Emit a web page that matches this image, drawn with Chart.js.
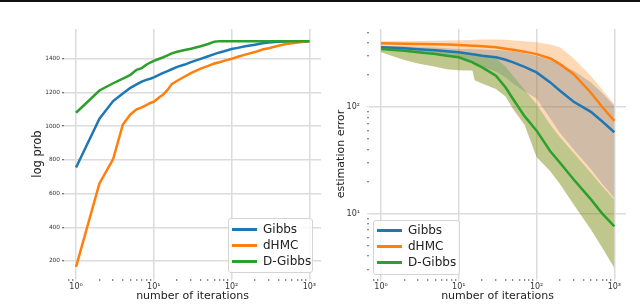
<!DOCTYPE html>
<html>
<head>
<meta charset="utf-8">
<script src="https://cdn.jsdelivr.net/npm/chart.js@4.4.0/dist/chart.umd.min.js"></script>
<style>
  html, body { margin: 0; padding: 0; background: #fff; }
  #wrap { position: relative; width: 640px; height: 305px; overflow: hidden; background: #fff; }
  #topbar { position: absolute; left: 0; top: 0; width: 640px; height: 2px; background: #111; }
  canvas { position: absolute; left: 0; top: 0; }
  .legend {
    position: absolute; box-sizing: border-box;
    background: rgba(255,255,255,0.8); border: 1px solid #d4d4d4; border-radius: 3px;
    font-family: 'DejaVu Sans', sans-serif; font-size: 12px; color: #222;
  }
  .legend .row { position: absolute; left: 0; height: 16px; line-height: 16px; white-space: nowrap; }
  .legend .row i { position: absolute; left: 3px; top: 6.5px; width: 25px; height: 3px; }
  .legend .row span { position: absolute; left: 34px; top: 0; }
</style>
</head>
<body>
<div id="wrap">
  <canvas id="lp-chart" width="640" height="305"></canvas>
  <canvas id="err-chart" width="640" height="305"></canvas>
  <div id="topbar"></div>
  <div class="legend" id="lp-legend" style="left:228px;top:218px;width:85px;height:55px"></div>
  <div class="legend" id="err-legend" style="left:373px;top:220px;width:87px;height:55px"></div>
</div>
<script>
'use strict';

// ── Data ──────────────────────────────────────────────────────────────────────

const SERIES = ['Gibbs', 'dHMC', 'D-Gibbs'];
const COLORS = ['#1f77b4', '#ff7f0e', '#2ca02c'];
const BANDS  = ['rgba(31,119,180,0.3)', 'rgba(255,127,14,0.3)', 'rgba(44,160,44,0.3)'];

// left panel: log prob vs iterations
const ITER_L = [1, 2, 3, 4, 5, 6, 7, 8, 9, 10, 12, 13, 15, 17, 20, 25, 30, 40, 50, 60,
                70, 80, 100, 120, 150, 200, 250, 300, 400, 500, 600, 700, 800, 900, 1000];
const gibbsLP  = [755, 1045, 1149, 1194, 1228, 1248, 1265, 1275, 1282, 1290, 1307, 1315, 1327, 1338, 1352, 1366, 1380, 1400, 1415, 1428,
                  1438, 1445, 1458, 1465, 1474, 1484, 1492, 1497, 1501, 1503, 1504, 1505, 1505, 1505, 1505];
const dhmcLP   = [165, 660, 805, 1010, 1070, 1100, 1112, 1125, 1138, 1145, 1175, 1185, 1215, 1250, 1270, 1295, 1315, 1342, 1358, 1372,
                  1380, 1388, 1400, 1412, 1425, 1440, 1455, 1463, 1478, 1488, 1493, 1497, 1500, 1503, 1506];
const dgibbsLP = [1080, 1212, 1255, 1283, 1305, 1335, 1345, 1365, 1378, 1388, 1402, 1408, 1420, 1432, 1442, 1452, 1460, 1475, 1488, 1502,
                  1505, 1504, 1505, 1504, 1505, 1504, 1505, 1504, 1505, 1504, 1505, 1505, 1504, 1505, 1505];

// right panel: estimation error (mean with band) vs iterations
const ITER_R = [1, 2, 3, 5, 7, 10, 15, 16, 20, 30, 40, 50, 70, 100, 150, 200, 300, 500, 700, 1000];
const gibbsErr    = [362, 355, 348, 340, 332, 325, 312, 310, 302, 292, 277, 262, 238, 211, 170, 142, 112, 90, 73, 58];
const gibbsErrUp  = [375, 370, 365, 360, 355, 350, 348, 347, 345, 342, 338, 332, 318, 300, 275, 252, 218, 170, 135, 102];
const gibbsErrLo  = [348, 335, 325, 310, 298, 285, 262, 255, 240, 215, 190, 165, 140, 120, 78, 57, 40, 26, 19, 14];
const dhmcErr     = [395, 392, 390, 387, 384, 380, 375, 374, 370, 362, 352, 344, 330, 313, 285, 252, 203, 136, 100, 74];
const dhmcErrUp   = [412, 414, 416, 418, 420, 422, 425, 426, 430, 430, 426, 420, 412, 404, 385, 362, 285, 195, 145, 106];
const dhmcErrLo   = [325, 275, 256, 238, 226, 221, 220, 178, 166, 147, 125, 95, 68, 34, 25, 19, 12.2, 7.1, 4.8, 3.1];
const dgibbsErr   = [350, 336, 325, 313, 302, 292, 262, 255, 235, 196, 152, 118, 82, 60, 38.5, 30, 20.9, 13.6, 10, 7.6];
const dgibbsErrUp = [362, 352, 345, 338, 332, 325, 312, 310, 302, 285, 240, 195, 145, 106, 68, 52, 37, 24, 18, 13.5];
const dgibbsErrLo = [325, 275, 256, 238, 226, 221, 220, 178, 166, 147, 125, 95, 68, 34, 25, 19, 12.2, 7.1, 4.8, 3.1];

// ticks
const X_MAJOR   = [1, 10, 100, 1000];
const X_LABELS  = ['10⁰', '10¹', '10²', '10³'];
const LP_TICKS  = [200, 400, 600, 800, 1000, 1200, 1400];
const ERR_MAJOR = [10, 100];
const ERR_LABELS = ['10¹', '10²'];

// ── Chart setup ───────────────────────────────────────────────────────────────

const FONT = "'DejaVu Sans', sans-serif";
const GRID = '#dcdcdc';
Chart.defaults.font.family = FONT;
Chart.defaults.color = '#262626';

const pts = (xs, ys) => xs.map((x, i) => ({ x, y: ys[i] }));

function minorTicks(lo, hi) {
  const out = [];
  for (let d = 0.1; d < 2000; d *= 10) {
    for (let k = 2; k <= 9; k++) {
      const v = +(k * d).toPrecision(3);
      if (v > lo && v < hi) out.push(v);
    }
  }
  return out;
}

function tickSetter(major, lo, hi) {
  return scale => {
    const t = major.map(v => ({ value: v, major: true }))
      .concat(minorTicks(lo, hi).map(v => ({ value: v, major: false })));
    t.sort((a, b) => a.value - b.value);
    scale.ticks = t;
  };
}

const labelFrom = (major, labels) => v => {
  const i = major.indexOf(v);
  return i >= 0 ? labels[i] : '';
};

function gridOpts(majorTick) {
  return {
    color: c => (c.tick && c.tick.major ? GRID : 'rgba(0,0,0,0)'),
    lineWidth: 1.5,
    tickColor: c => (c.tick && c.tick.major ? majorTick : '#666'),
    tickLength: 2,
    tickWidth: 1,
  };
}

function xAxis(min, max) {
  return {
    type: 'logarithmic', min, max,
    border: { display: false },
    grid: gridOpts(GRID),
    afterBuildTicks: tickSetter(X_MAJOR, min, max),
    afterFit: s => { s.height = 26; },
    ticks: {
      autoSkip: false, maxRotation: 0, padding: 1,
      font: { size: 8 }, color: '#333',
      callback: labelFrom(X_MAJOR, X_LABELS),
    },
    title: {
      display: true, text: 'number of iterations',
      font: { size: 11 }, color: '#222',
      padding: { top: 0, bottom: 2 },
    },
  };
}

const lineDs = (label, data, k, order) => ({
  label, data, order,
  borderColor: COLORS[k], borderWidth: 2.5,
  pointRadius: 0, tension: 0, fill: false,
});

const edgeDs = (data, order) => ({
  data, order,
  borderColor: 'rgba(0,0,0,0)', borderWidth: 0,
  pointRadius: 0, tension: 0, fill: false,
});

const bandDs = (data, k, order) => ({
  data, order,
  borderColor: 'rgba(0,0,0,0)', borderWidth: 0,
  backgroundColor: BANDS[k],
  pointRadius: 0, tension: 0, fill: '-1',
});

const common = {
  responsive: false,
  animation: false,
  events: [],
  devicePixelRatio: 1,
  plugins: { legend: { display: false }, tooltip: { enabled: false } },
};

// ── Left: log prob ────────────────────────────────────────────────────────────

new Chart(document.getElementById('lp-chart'), {
  type: 'line',
  data: {
    datasets: [
      lineDs(SERIES[0], pts(ITER_L, gibbsLP), 0, 3),
      lineDs(SERIES[1], pts(ITER_L, dhmcLP), 1, 2),
      lineDs(SERIES[2], pts(ITER_L, dgibbsLP), 2, 1),
    ],
  },
  options: {
    ...common,
    layout: { padding: { left: 0, right: 319, top: 29, bottom: 0 } },
    scales: {
      x: xAxis(0.708, 1412),
      y: {
        type: 'linear', min: 93, max: 1577,
        border: { display: false },
        grid: gridOpts('#444'),
        afterBuildTicks: tickSetter(LP_TICKS, 0, 0),
        afterFit: s => { s.width = 64; },
        ticks: {
          padding: 2, font: { size: 5.8 }, color: '#333',
          callback: v => String(v),
        },
        title: {
          display: true, text: 'log prob',
          font: { size: 11.5 }, color: '#222',
          padding: { top: 31, bottom: 0 },
        },
      },
    },
  },
});

// ── Right: estimation error ───────────────────────────────────────────────────

new Chart(document.getElementById('err-chart'), {
  type: 'line',
  data: {
    datasets: [
      edgeDs(pts(ITER_R, gibbsErrLo), 6),
      bandDs(pts(ITER_R, gibbsErrUp), 0, 6),
      edgeDs(pts(ITER_R, dhmcErrLo), 5),
      bandDs(pts(ITER_R, dhmcErrUp), 1, 5),
      edgeDs(pts(ITER_R, dgibbsErrLo), 4),
      bandDs(pts(ITER_R, dgibbsErrUp), 2, 4),
      lineDs(SERIES[0], pts(ITER_R, gibbsErr), 0, 3),
      lineDs(SERIES[1], pts(ITER_R, dhmcErr), 1, 2),
      lineDs(SERIES[2], pts(ITER_R, dgibbsErr), 2, 1),
    ],
  },
  options: {
    ...common,
    layout: { padding: { left: 320, right: 14, top: 29, bottom: 0 } },
    scales: {
      x: xAxis(0.708, 1412),
      y: {
        type: 'logarithmic', min: 2.44, max: 538,
        border: { display: false },
        grid: gridOpts(GRID),
        afterBuildTicks: tickSetter(ERR_MAJOR, 2.44, 538),
        afterFit: s => { s.width = 49; },
        ticks: {
          autoSkip: false, padding: 7,
          font: { size: 8 }, color: '#333',
          callback: labelFrom(ERR_MAJOR, ERR_LABELS),
        },
        title: {
          display: true, text: 'estimation error',
          font: { size: 11 }, color: '#222',
          padding: { top: 15, bottom: 0 },
        },
      },
    },
  },
});

// ── Legends ───────────────────────────────────────────────────────────────────

function buildLegend(id, rowTops) {
  const box = document.getElementById(id);
  SERIES.forEach((name, k) => {
    const row = document.createElement('div');
    row.className = 'row';
    row.style.top = rowTops[k] + 'px';
    row.innerHTML = `<i style="background:${COLORS[k]}"></i><span>${name}</span>`;
    box.appendChild(row);
  });
}

buildLegend('lp-legend', [2, 18, 34]);
buildLegend('err-legend', [1, 17, 33]);
</script>
</body>
</html>
